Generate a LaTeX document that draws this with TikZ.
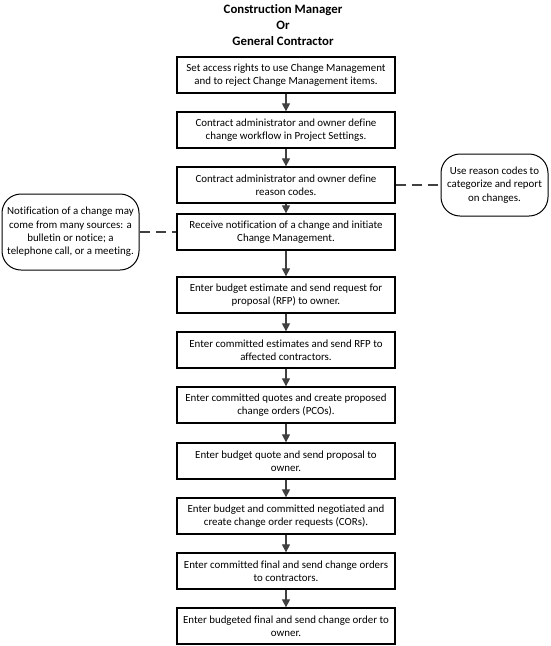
\documentclass[tikz,border=0pt]{standalone}
\usepackage{fontspec}
\setmainfont{Carlito}[Ligatures=NoCommon]
\usetikzlibrary{arrows.meta}
\definecolor{conn}{HTML}{404040}
\begin{document}
\begin{tikzpicture}[x=1pt,y=-1pt,
  stepbox/.style={draw=black, line width=1.3pt, fill=white, minimum width=218pt, minimum height=36pt, inner sep=0pt, align=center, font=\fontsize{10.9}{13.4}\selectfont},
  note/.style={draw=black, line width=1pt, fill=white, rounded corners=19pt, inner sep=0pt, align=center, font=\fontsize{10.9}{13.4}\selectfont},
  flow/.style={draw=conn, line width=1.2pt, -{Triangle[length=8pt,width=8pt]}},
  link/.style={draw=conn, line width=1.2pt, dash pattern=on 10pt off 6pt}]
\useasboundingbox (0,0) rectangle (551,646);
\node[font=\bfseries\fontsize{12.8}{15.6}\selectfont, align=center] (title) at (283,25) {Construction Manager\\Or\\General Contractor};
\node[stepbox] (b1) at (286,75) {Set access rights to use Change Management\\and to reject Change Management items.};
\node[stepbox] (b2) at (286,130) {Contract administrator and owner define\\change workflow in Project Settings.};
\node[stepbox] (b3) at (286,185) {Contract administrator and owner define\\reason codes.};
\node[stepbox] (b4) at (286,232) {Receive notification of a change and initiate\\Change Management.};
\node[stepbox] (b5) at (286,295) {Enter budget estimate and send request for\\proposal (RFP) to owner.};
\node[stepbox] (b6) at (286,350) {Enter committed estimates and send RFP to\\affected contractors.};
\node[stepbox] (b7) at (286,405) {Enter committed quotes and create proposed\\change orders (PCOs).};
\node[stepbox] (b8) at (286,461) {Enter budget quote and send proposal to\\owner.};
\node[stepbox] (b9) at (286,516) {Enter budget and committed negotiated and\\create change order requests (CORs).};
\node[stepbox] (b10) at (286,571) {Enter committed final and send change orders\\to contractors.};
\node[stepbox] (b11) at (286,626) {Enter budgeted final and send change order to\\owner.};
\node[note, minimum width=137pt, minimum height=76pt] (ln) at (70.5,232) {Notification of a change may\\come from many sources: a\\bulletin or notice; a\\telephone call, or a meeting.};
\node[note, minimum width=107pt, minimum height=62pt] (rn) at (494.5,185) {Use reason codes to\\categorize and report\\on changes.};
\foreach \a/\b in {b1/b2,b2/b3,b3/b4,b4/b5,b5/b6,b6/b7,b7/b8,b8/b9,b9/b10,b10/b11}
  \draw[flow] (\a) -- (\b);
\draw[link] (b3.east) -- (rn.west);
\draw[link] (ln.east) -- (b4.west);
\end{tikzpicture}
\end{document}
